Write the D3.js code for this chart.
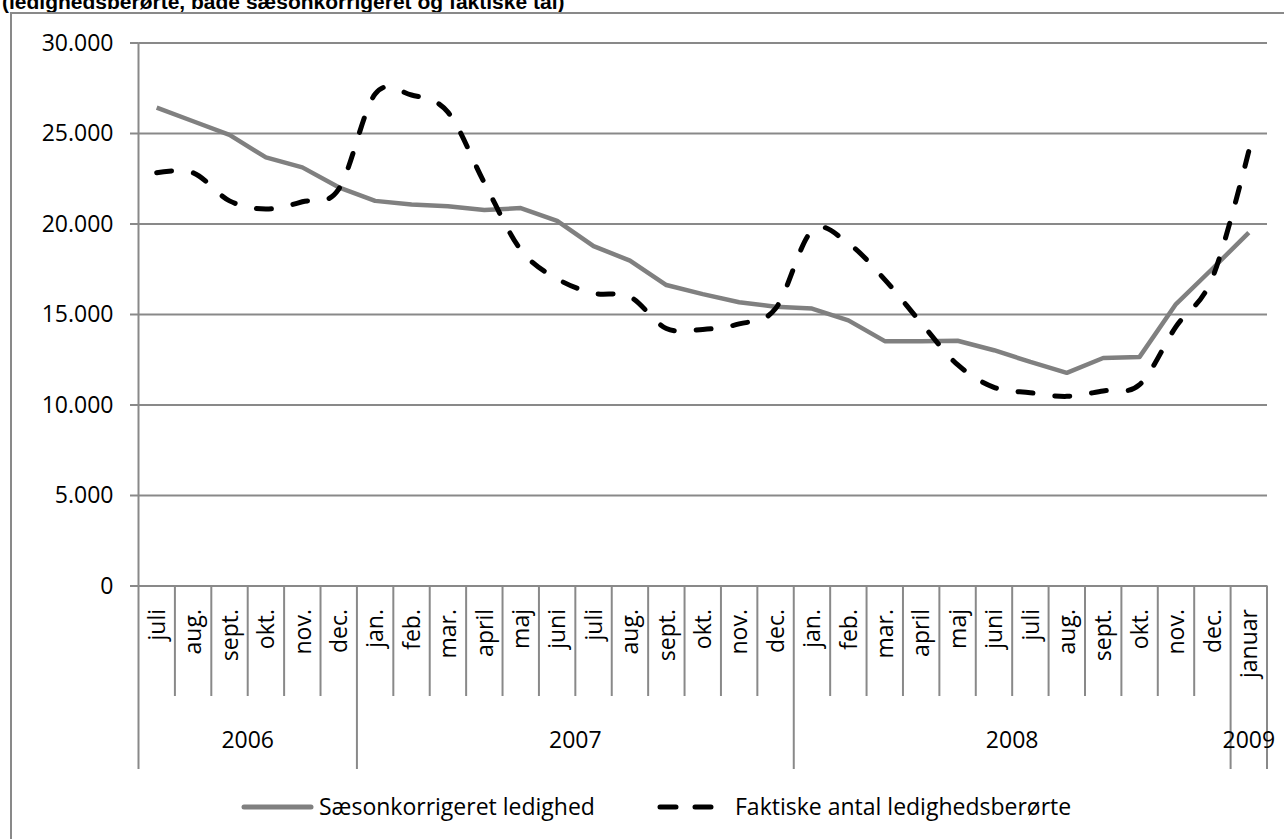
<!DOCTYPE html>
<html>
<head>
<meta charset="utf-8">
<script src="https://cdn.jsdelivr.net/npm/d3@7"></script>
<style>
  body { margin: 0; background: #fff; }
  svg text { font-family: "Open Sans", sans-serif; fill: #000; }
  .title { font-family: "Liberation Sans", Arial, sans-serif; font-weight: bold; }
</style>
</head>
<body>
<div id="chart"></div>
<script>
// months on the x axis, grouped by year
var months = ['juli', 'aug.', 'sept.', 'okt.', 'nov.', 'dec.',
  'jan.', 'feb.', 'mar.', 'april', 'maj', 'juni', 'juli', 'aug.', 'sept.', 'okt.', 'nov.', 'dec.',
  'jan.', 'feb.', 'mar.', 'april', 'maj', 'juni', 'juli', 'aug.', 'sept.', 'okt.', 'nov.', 'dec.',
  'januar'];
var years = ['2006', '2007', '2008', '2009'];
var yearSpans = [6, 12, 12, 1];

// series values (persons)
var saeson = [26400, 25650, 24900, 23650, 23100, 22000,
  21250, 21050, 20950, 20750, 20850, 20150, 18750, 17950, 16600, 16100, 15650, 15400,
  15300, 14650, 13500, 13500, 13520, 13000, 12350, 11750, 12570, 12630, 15550, 17500,
  19500];
var faktiske = [22800, 22800, 21250, 20800, 21200, 21900,
  27150, 27100, 26150, 22250, 18550, 16950, 16150, 15950, 14200, 14150, 14450, 15300,
  19600, 18900, 16900, 14500, 12200, 10950, 10650, 10450, 10750, 11100, 14300, 17000,
  24000];
var yTicks = [0, 5000, 10000, 15000, 20000, 25000, 30000];
var seriesNames = ['Sæsonkorrigeret ledighed', 'Faktiske antal ledighedsberørte'];

var W = 1284, H = 839;
var plot = { left: 138.5, right: 1267, top: 42.5, bottom: 585.5 };
var grid = '#898989';

var svg = d3.select('#chart').append('svg')
  .attr('width', W)
  .attr('height', H);

// title, cut off at the top as in the source
svg.append('text')
  .attr('class', 'title')
  .attr('x', 2)
  .attr('y', 9)
  .style('font-size', '21px')
  .text('(ledighedsberørte, både sæsonkorrigeret og faktiske tal)');

// outer chart frame
svg.append('rect')
  .attr('x', 11).attr('y', 13)
  .attr('width', 1400).attr('height', 1000)
  .attr('fill', 'none')
  .attr('stroke', grid)
  .attr('stroke-width', 2);

var x = d3.scaleBand()
  .domain(d3.range(months.length))
  .range([plot.left, plot.right]);

var y = d3.scaleLinear()
  .domain([0, 30000])
  .range([plot.bottom, plot.top]);

var da = d3.formatLocale({ decimal: ',', thousands: '.', grouping: [3], currency: ['', ' kr.'] });
var fmt = da.format(',d');

// y axis with gridlines
var yAxis = svg.append('g')
  .attr('transform', 'translate(' + plot.left + ',0)')
  .call(d3.axisLeft(y).tickValues(yTicks).tickFormat(fmt)
    .tickSizeInner(-(plot.right - plot.left)).tickSizeOuter(0).tickPadding(25));
yAxis.select('.domain').remove();
yAxis.selectAll('.tick line').attr('stroke', grid).attr('stroke-width', 2);
yAxis.selectAll('.tick text')
  .style('font-size', '23px')
  .attr('dy', '0.34em');
// small outside ticks
yAxis.selectAll('.tick').append('line')
  .attr('x1', -8.5).attr('x2', 0)
  .attr('stroke', grid).attr('stroke-width', 2);

svg.append('line')
  .attr('x1', plot.left).attr('x2', plot.left)
  .attr('y1', plot.top).attr('y2', plot.bottom)
  .attr('stroke', grid).attr('stroke-width', 2);

// category boundaries
var bounds = d3.range(months.length + 1).map(function(i) {
  return i < months.length ? x(i) : plot.right;
});
var yearBounds = [0];
yearSpans.forEach(function(s) { yearBounds.push(yearBounds[yearBounds.length - 1] + s); });

svg.append('g').selectAll('line')
  .data(bounds)
  .enter().append('line')
    .attr('x1', function(d) { return d; })
    .attr('x2', function(d) { return d; })
    .attr('y1', plot.bottom)
    .attr('y2', function(d, i) { return yearBounds.indexOf(i) >= 0 ? 769 : 696; })
    .attr('stroke', grid)
    .attr('stroke-width', 2);

// month labels, rotated
svg.append('g').selectAll('text')
  .data(months)
  .enter().append('text')
    .attr('transform', function(d, i) {
      return 'translate(' + (x(i) + x.bandwidth() / 2) + ',609) rotate(-90)';
    })
    .attr('text-anchor', 'end')
    .attr('dy', '0.36em')
    .style('font-size', '23px')
    .text(function(d) { return d; });

// year labels
svg.append('g').selectAll('text')
  .data(years)
  .enter().append('text')
    .attr('x', function(d, i) {
      var a = bounds[yearBounds[i]], b = bounds[yearBounds[i + 1]];
      return (a + b) / 2;
    })
    .attr('y', 740)
    .attr('dy', '0.36em')
    .attr('text-anchor', 'middle')
    .style('font-size', '23px')
    .text(function(d) { return d; });

var cx = function(d, i) { return x(i) + x.bandwidth() / 2; };

// seasonally adjusted line
svg.append('path')
  .datum(saeson)
  .attr('fill', 'none')
  .attr('stroke', '#808080')
  .attr('stroke-width', 4.5)
  .attr('stroke-linejoin', 'round')
  .attr('d', d3.line().x(cx).y(function(d) { return y(d); }));

// actual numbers, smoothed dashed line
svg.append('path')
  .datum(faktiske)
  .attr('fill', 'none')
  .attr('stroke', '#000')
  .attr('stroke-width', 5)
  .attr('stroke-linecap', 'round')
  .attr('stroke-dasharray', '15,22')
  .attr('d', d3.line().curve(d3.curveCardinal.tension(0)).x(cx).y(function(d) { return y(d); }));

// legend
var lg = svg.append('g');
lg.append('line')
  .attr('x1', 244).attr('x2', 311).attr('y1', 807).attr('y2', 807)
  .attr('stroke', '#808080').attr('stroke-width', 5).attr('stroke-linecap', 'round');
lg.append('text')
  .attr('x', 319).attr('y', 807).attr('dy', '0.36em')
  .style('font-size', '23px')
  .text(seriesNames[0]);
lg.append('line')
  .attr('x1', 660).attr('x2', 711).attr('y1', 807).attr('y2', 807)
  .attr('stroke', '#000').attr('stroke-width', 5).attr('stroke-linecap', 'round')
  .attr('stroke-dasharray', '16,19');
lg.append('text')
  .attr('x', 735).attr('y', 807).attr('dy', '0.36em')
  .style('font-size', '23px')
  .text(seriesNames[1]);
</script>
</body>
</html>
